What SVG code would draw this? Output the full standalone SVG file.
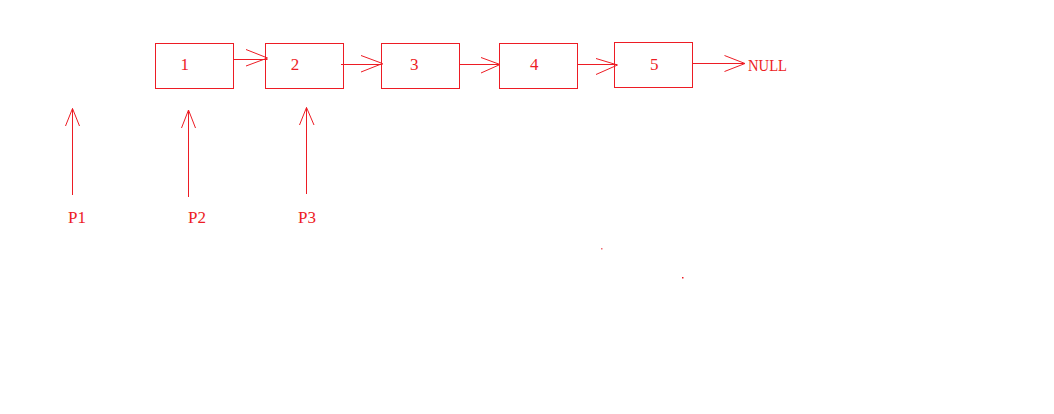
<svg xmlns="http://www.w3.org/2000/svg" width="1054" height="414" viewBox="0 0 1054 414">
<style>
.box{fill:none;stroke:#ed1c24;stroke-width:1}
.ln{fill:none;stroke:#ed1c24;stroke-width:1}
.t{font-family:"Liberation Serif","DejaVu Serif",serif;font-size:17px;fill:#ed1c24}
</style>
<rect width="1054" height="414" fill="#ffffff"/>
<g id="node1"><rect class="box" x="155.5" y="43.5" width="78" height="45"/><text class="t" x="184.7" y="70" text-anchor="middle">1</text></g>
<g id="node2"><rect class="box" x="265.5" y="43.5" width="78" height="45"/><text class="t" x="295" y="70" text-anchor="middle">2</text></g>
<g id="node3"><rect class="box" x="381.5" y="43.5" width="78" height="45"/><text class="t" x="414.3" y="70" text-anchor="middle">3</text></g>
<g id="node4"><rect class="box" x="499.5" y="43.5" width="78" height="45"/><text class="t" x="534.3" y="70" text-anchor="middle">4</text></g>
<g id="node5"><rect class="box" x="614.5" y="42.5" width="78" height="45"/><text class="t" x="654.3" y="70" text-anchor="middle">5</text></g>
<g id="null"><text class="t" x="748" y="71" textLength="39" lengthAdjust="spacingAndGlyphs">NULL</text></g>
<g id="p1"><text class="t" x="68" y="223">P1</text></g>
<g id="p2"><text class="t" x="188" y="223">P2</text></g>
<g id="p3"><text class="t" x="298" y="223">P3</text></g>
<g id="connectors">
<path class="ln" d="M233.5 59.5H267.5M246 49.5L267.5 58L246 66"/>
<path class="ln" d="M341 64.5H382.5M361 55.5L382.5 63.5L361 72"/>
<path class="ln" d="M459.5 64.5H500M481 57.5L500 64.5L481 73"/>
<path class="ln" d="M577.5 64.5H617M596 58.5L617.5 65L596 74.5"/>
<path class="ln" d="M692.5 63.5H745M724.5 55.5L745 63.5L724.5 71.5"/>
<path class="ln" d="M72.5 195V108.5M65.5 126L72.5 108.5L79.5 126"/>
<path class="ln" d="M188.5 197V110M181.5 128L188.5 110L195.5 128"/>
<path class="ln" d="M306.5 194V107.5M299.5 125L306.5 107.5L314 125"/>
</g>
<rect x="601" y="248" width="1.5" height="1.5" fill="#f06a70"/>
<rect x="682" y="277" width="1.5" height="1.5" fill="#ed1c24"/>
</svg>
